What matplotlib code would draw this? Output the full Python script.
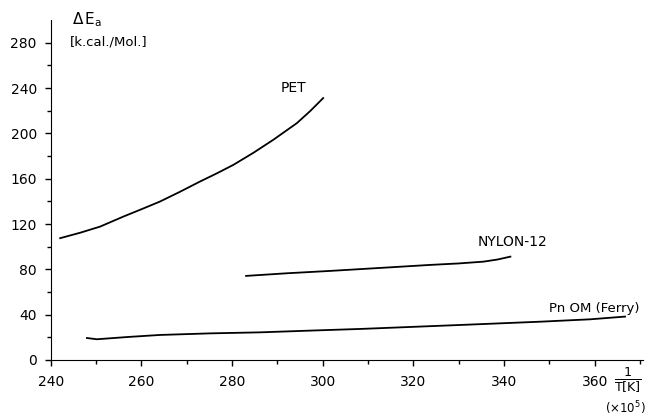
import numpy as np
import matplotlib
matplotlib.use("Agg")
import matplotlib.pyplot as plt

# curves
pet_x = [242.1, 246.5, 250.9, 256.0, 260.0, 264.1, 268.5, 272.9, 276.6, 280.3, 284.7, 289.1, 294.3, 297.2, 300.1]
pet_y = [107.5, 112.3, 117.7, 126.5, 133.0, 139.8, 148.4, 157.4, 164.6, 172.2, 182.8, 194.3, 209.0, 219.5, 231.1]

nylon_x = [283.1, 292.0, 301.6, 312.5, 323.7, 330.0, 335.5, 338.6, 341.4]
nylon_y = [74.2, 76.5, 78.6, 81.2, 83.9, 85.2, 86.8, 88.7, 91.2]

pnom_x = [248.0, 250.2, 257.0, 264.1, 275.2, 286.2, 297.0, 308.3, 319.0, 330.3, 348.0, 359.0, 366.7]
pnom_y = [19.4, 18.3, 20.3, 22.1, 23.5, 24.4, 25.9, 27.4, 29.1, 30.9, 33.8, 35.9, 38.3]

x_ticks = [240, 260, 280, 300, 320, 340, 360]
y_ticks = [0, 40, 80, 120, 160, 200, 240, 280]

plt.rcParams['font.family'] = ['DejaVu Sans']

fig = plt.figure(figsize=(6.49, 4.17), dpi=100)
ax = fig.add_axes([0.0781, 0.1367, 0.913, 0.8153])

ax.plot(pet_x, pet_y, color='black', lw=1.3)
ax.plot(nylon_x, nylon_y, color='black', lw=1.3)
ax.plot(pnom_x, pnom_y, color='black', lw=1.3)

ax.text(293.5, 240, 'PET', ha='center', va='center', fontsize=10)
ax.text(341.8, 104.5, 'NYLON-12', ha='center', va='center', fontsize=10)
ax.text(360, 45, 'Pn OM (Ferry)', ha='center', va='center', fontsize=9.5)

ax.set_xlim(240, 370.7)
ax.set_ylim(0, 300)
ax.spines['top'].set_visible(False)
ax.spines['right'].set_visible(False)

ax.set_xticks(x_ticks)
ax.set_xticks(np.arange(250, 371, 10), minor=True)
ax.set_yticks(y_ticks)
ax.set_yticks(np.arange(20, 300, 40), minor=True)
ax.tick_params(axis='both', which='major', length=4, width=1, labelsize=10)
ax.tick_params(axis='both', which='minor', length=3, width=1)
ax.tick_params(axis='x', which='major', pad=7)
ax.tick_params(axis='y', which='major', pad=6)

# axis titles drawn in figure pixels
fig.text(72 / 649, 1 - 20 / 417, r'$\Delta\,\mathrm{E}_{\mathrm{a}}$', fontsize=11, ha='left', va='center')
fig.text(70 / 649, 1 - 42 / 417, '[k.cal./Mol.]', fontsize=9.5, ha='left', va='center')
fig.text(628 / 649, 1 - 380 / 417, r'$\frac{1}{\mathrm{T[K]}}$', fontsize=13, ha='center', va='center')
fig.text(646 / 649, 1 - 408 / 417, r'$(\times 10^5)$', fontsize=8.5, ha='right', va='center')

fig.savefig('out.png', dpi=100)
